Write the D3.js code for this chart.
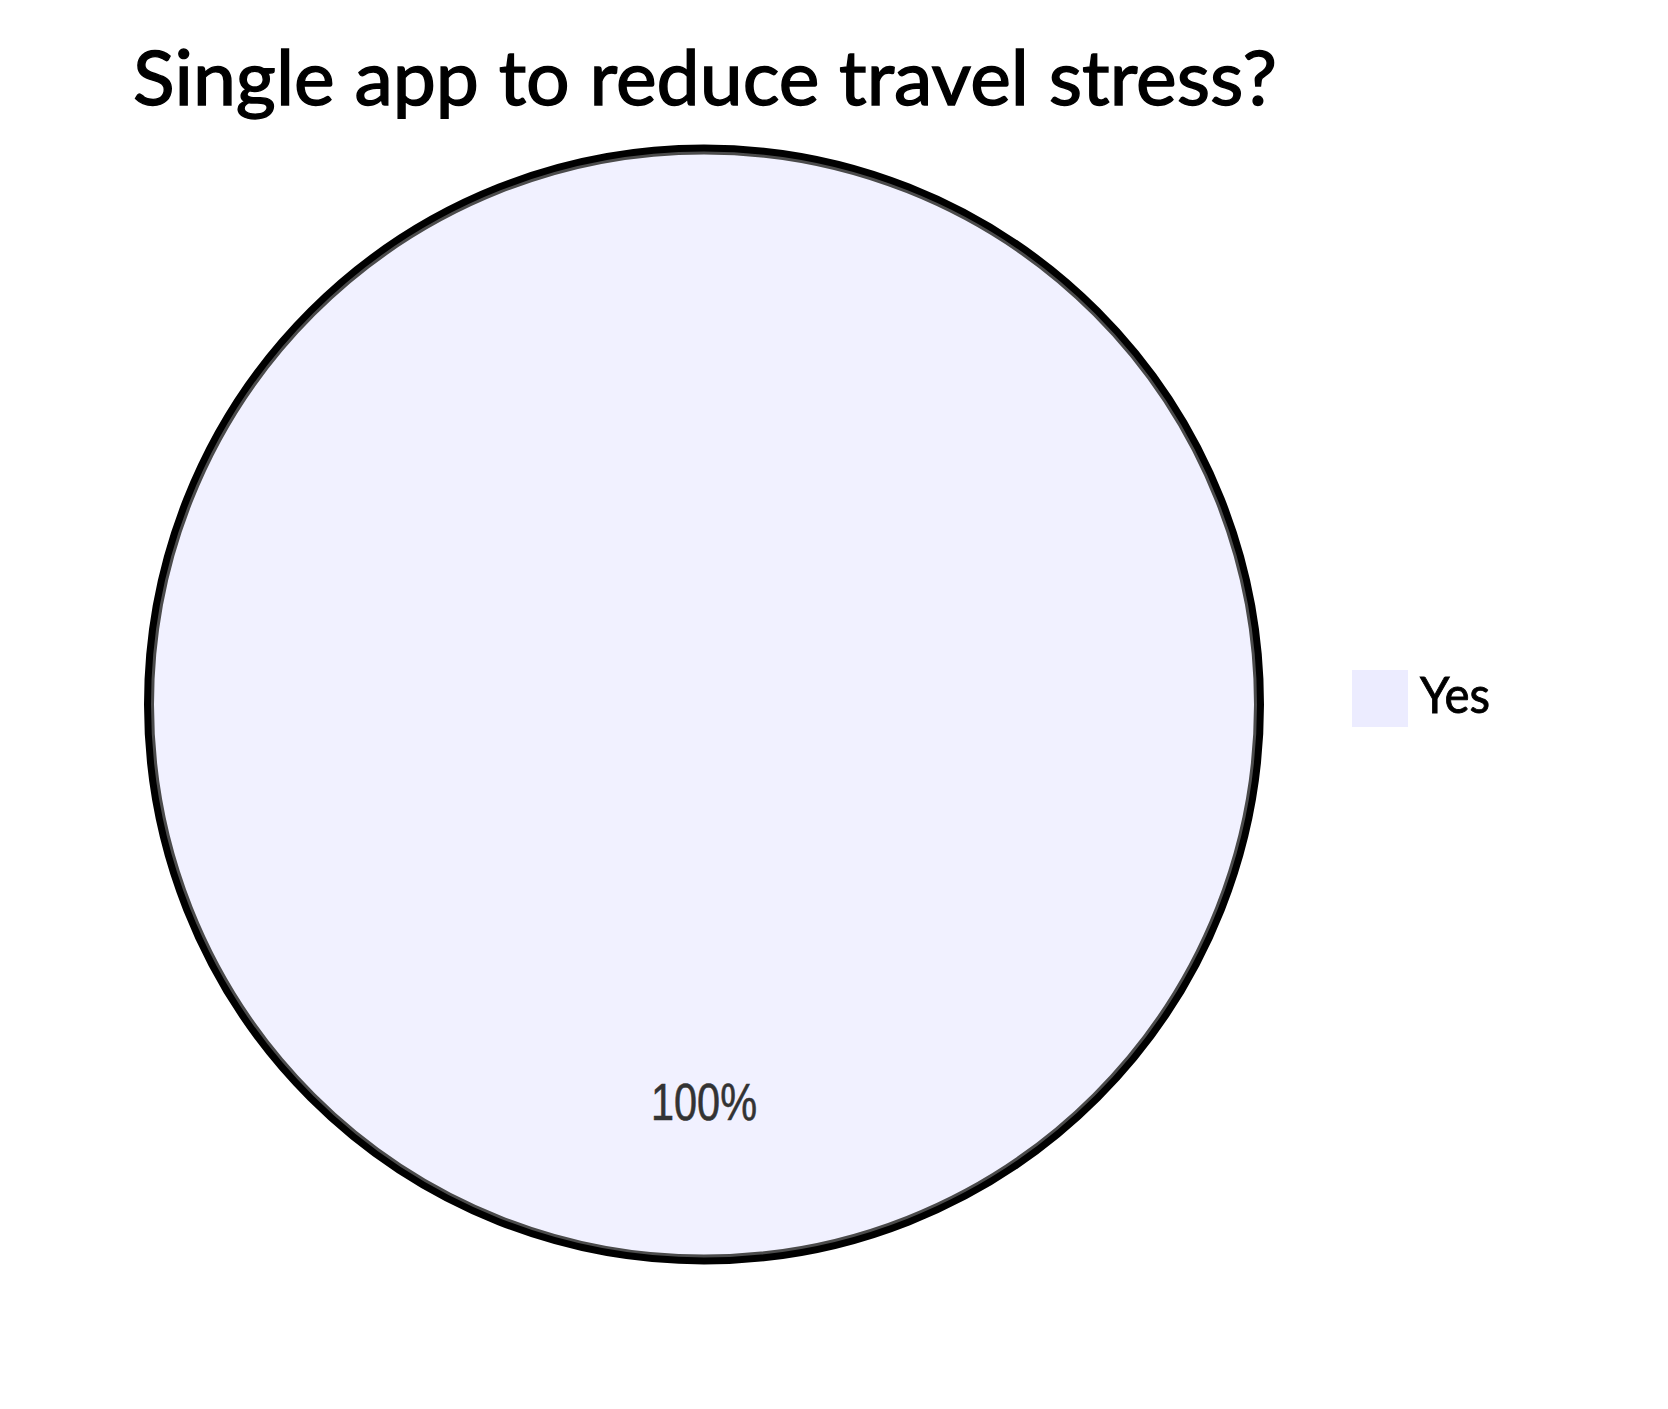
<!DOCTYPE html>
<html>
<head>
<meta charset="utf-8">
<script src="https://cdn.jsdelivr.net/npm/d3@7"></script>
<style>
  html, body { margin: 0; padding: 0; background: #ffffff; }
  svg { display: block; }
</style>
</head>
<body>
<script>
const chartTitle = "Single app to reduce travel stress?";
const categories = ["Yes"];
const values = [100];
const colors = ["#ECECFF"];

const W = 1668, H = 1409;
const cx = 704, cy = 704.5;
const sliceRadius = 553;
const outerRadius = 556.5;

const svg = d3.select("body").append("svg")
  .attr("width", W).attr("height", H);

const color = d3.scaleOrdinal().domain(categories).range(colors);
const data = categories.map((c, i) => ({ label: c, value: values[i] }));
const total = d3.sum(values);

const pie = d3.pie().value(d => d.value).sort(null);
const arcs = pie(data);
const arc = d3.arc().innerRadius(0).outerRadius(sliceRadius);
const labelArc = d3.arc().innerRadius(sliceRadius * 0.752).outerRadius(sliceRadius * 0.752);

const g = svg.append("g").attr("transform", `translate(${cx},${cy})`);

g.selectAll("path.slice").data(arcs).enter().append("path")
  .attr("class", "slice")
  .attr("d", arc)
  .attr("fill", d => color(d.data.label))
  .attr("stroke", "#000")
  .attr("stroke-width", 6)
  .style("opacity", 0.7);

// outer ring
g.append("circle")
  .attr("r", outerRadius)
  .attr("fill", "none")
  .attr("stroke", "#000")
  .attr("stroke-width", 7);

g.selectAll("text.pct").data(arcs).enter().append("text")
  .attr("class", "pct")
  .attr("transform", d => `translate(${labelArc.centroid(d)})`)
  .attr("text-anchor", "middle")
  .attr("font-family", "'Liberation Sans', Arial, sans-serif")
  .attr("font-size", 51)
  .attr("fill", "#333333")
  .attr("stroke", "#333333")
  .attr("stroke-width", 0.6)
  .attr("textLength", 106)
  .attr("lengthAdjust", "spacingAndGlyphs")
  .text(d => Math.round(d.data.value / total * 100) + "%");

// title
svg.append("text")
  .attr("x", 705).attr("y", 105)
  .attr("text-anchor", "middle")
  .attr("font-family", "'Trebuchet MS', Lato, 'Open Sans', sans-serif")
  .attr("font-size", 75)
  .attr("fill", "#000")
  .attr("stroke", "#000")
  .attr("stroke-width", 1.4)
  .attr("textLength", 1144)
  .attr("lengthAdjust", "spacingAndGlyphs")
  .text(chartTitle);

// legend
const legend = svg.selectAll("g.legend").data(categories).enter().append("g")
  .attr("class", "legend")
  .attr("transform", (d, i) => `translate(1352,${670 + i * 66})`);
legend.append("rect")
  .attr("width", 56).attr("height", 57)
  .attr("fill", d => color(d));
legend.append("text")
  .attr("x", 68).attr("y", 43)
  .attr("font-family", "'Trebuchet MS', Lato, 'Open Sans', sans-serif")
  .attr("font-size", 51)
  .attr("fill", "#000")
  .attr("stroke", "#000")
  .attr("stroke-width", 0.9)
  .attr("textLength", 70)
  .attr("lengthAdjust", "spacingAndGlyphs")
  .text(d => d);
</script>
</body>
</html>
